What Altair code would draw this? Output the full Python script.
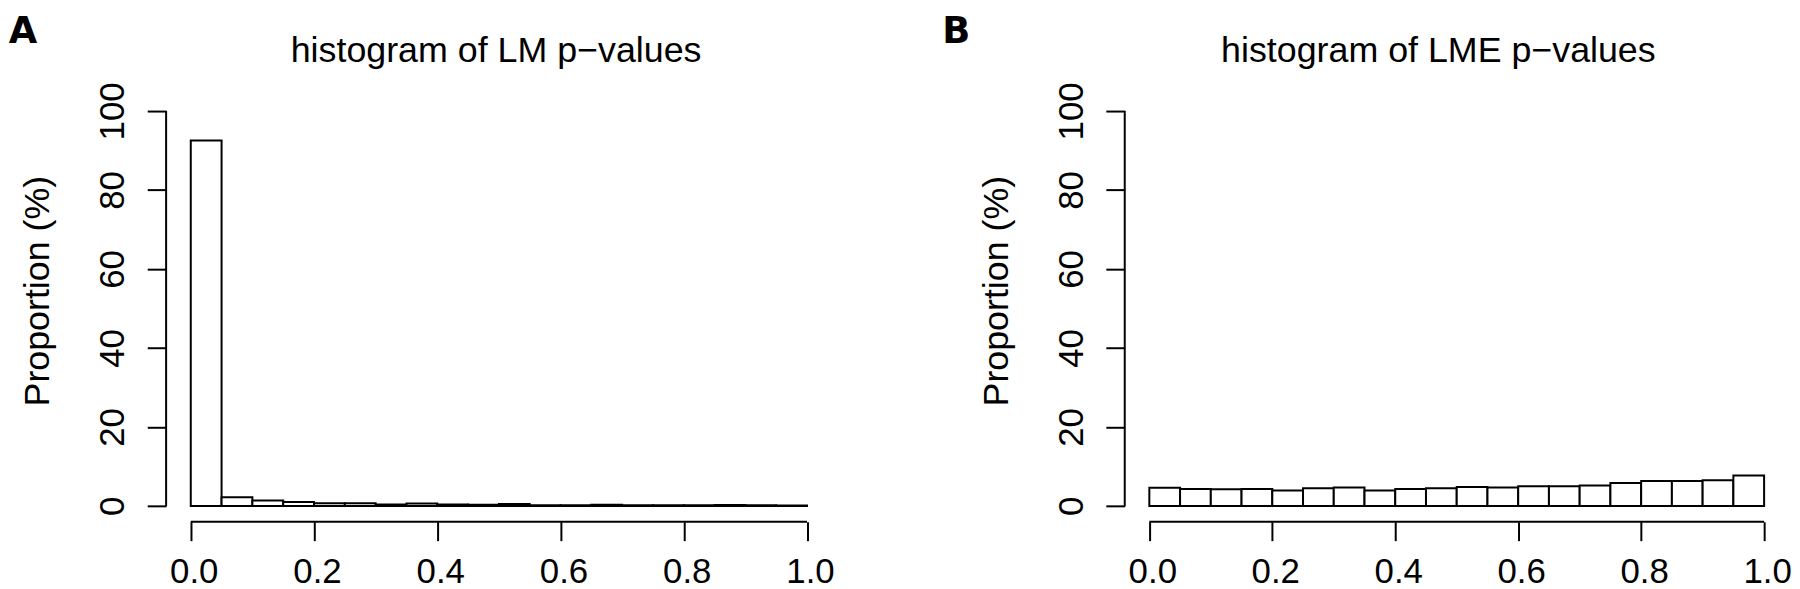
import altair as alt
import pandas as pd

FONT = "Liberation Sans"

bin_start = [0.00, 0.05, 0.10, 0.15, 0.20, 0.25, 0.30, 0.35, 0.40, 0.45,
             0.50, 0.55, 0.60, 0.65, 0.70, 0.75, 0.80, 0.85, 0.90, 0.95]
bin_end = [0.05, 0.10, 0.15, 0.20, 0.25, 0.30, 0.35, 0.40, 0.45, 0.50,
           0.55, 0.60, 0.65, 0.70, 0.75, 0.80, 0.85, 0.90, 0.95, 1.00]

lm_pct = [92.5, 2.2, 1.4, 1.0, 0.7, 0.7, 0.4, 0.6, 0.4, 0.3,
          0.5, 0.2, 0.2, 0.3, 0.2, 0.2, 0.15, 0.25, 0.15, 0.1]
lme_pct = [4.6, 4.3, 4.2, 4.3, 3.9, 4.5, 4.7, 3.9, 4.3, 4.5,
           4.8, 4.7, 5.0, 5.0, 5.2, 5.8, 6.3, 6.3, 6.5, 7.7]

x_ticks = [0.0, 0.2, 0.4, 0.6, 0.8, 1.0]
y_ticks = [0, 20, 40, 60, 80, 100]

titles = ["histogram of LM p\u2212values", "histogram of LME p\u2212values"]
letters = ["A", "B"]
y_title = "Proportion (%)"

Y_DOM = [-4, 104]
HEIGHT = 429


def panel(values, title, letter, width, xdom, title_x, letter_x):
    df = pd.DataFrame({"start": bin_start, "end": bin_end, "pct": values,
                       "base": [0] * len(values)})
    xs = alt.Scale(domain=xdom, nice=False, zero=False, padding=0)
    ys = alt.Scale(domain=Y_DOM, nice=False, zero=False, padding=0)

    x_axis = alt.Axis(values=x_ticks, format=".1f", domain=False, grid=False,
                      tickSize=19, tickWidth=2, tickColor="black",
                      labelFont=FONT, labelFontSize=35, labelColor="black",
                      labelBaseline="alphabetic", labelPadding=42,
                      labelOffset=3, labelFlush=False, labelOverlap=False,
                      title=None)
    y_axis = alt.Axis(values=y_ticks, format="d", domain=False, grid=False,
                      tickSize=19, tickWidth=2, tickColor="black",
                      labelFont=FONT, labelFontSize=35, labelColor="black",
                      labelAngle=270, labelAlign="center",
                      labelBaseline="alphabetic", labelPadding=23.5,
                      labelFlush=False, labelOverlap=False,
                      title=y_title, titleFont=FONT, titleFontSize=36,
                      titleFontWeight="normal", titleColor="black",
                      titleAngle=270, titleAlign="center",
                      titleBaseline="alphabetic", titleX=-118, titleY=196.6)

    bars = alt.Chart(df).mark_rect(fill="white", stroke="black",
                                   strokeWidth=2).encode(
        x=alt.X("start:Q", scale=xs, axis=x_axis),
        x2="end:Q",
        y=alt.Y("pct:Q", scale=ys, axis=y_axis),
        y2="base:Q",
    )

    xline_df = pd.DataFrame({"x0": [0.0], "x1": [1.0], "y": [Y_DOM[0]]})
    xline = alt.Chart(xline_df).mark_rule(color="black", strokeWidth=2).encode(
        x=alt.X("x0:Q", scale=xs, axis=x_axis),
        x2="x1:Q",
        y=alt.Y("y:Q", scale=ys, axis=y_axis),
    )
    yline_df = pd.DataFrame({"x": [xdom[0]], "y0": [0], "y1": [100]})
    yline = alt.Chart(yline_df).mark_rule(color="black", strokeWidth=2).encode(
        x=alt.X("x:Q", scale=xs, axis=x_axis),
        y=alt.Y("y0:Q", scale=ys, axis=y_axis),
        y2="y1:Q",
    )

    ttl = alt.Chart(pd.DataFrame({"t": [title]})).mark_text(
        font=FONT, fontSize=36, color="black", align="center",
        baseline="alphabetic").encode(
        x=alt.value(title_x), y=alt.value(-33.4), text="t:N")

    let = alt.Chart(pd.DataFrame({"t": [letter]})).mark_text(
        font="DejaVu Sans", fontSize=37, fontWeight="bold", color="black",
        align="left", baseline="top").encode(
        x=alt.value(letter_x), y=alt.value(-81.4), text="t:N")

    return alt.layer(bars, xline, yline, ttl, let).properties(
        width=width, height=HEIGHT)


left = panel(lm_pct, titles[0], letters[0], 669.3, [-0.04, 1.04], 331.8, -158.2)
right = panel(lme_pct, titles[1], letters[1], 661.5, [-0.04, 1.03], 315.4, -183.6)

chart = alt.hconcat(left, right, spacing=108).properties(
    padding={"top": 3, "left": 0, "right": 0, "bottom": 0},
    background="white"
).configure_view(stroke=None)

chart.save("out.html", embed_options={"renderer": "svg", "actions": False})
